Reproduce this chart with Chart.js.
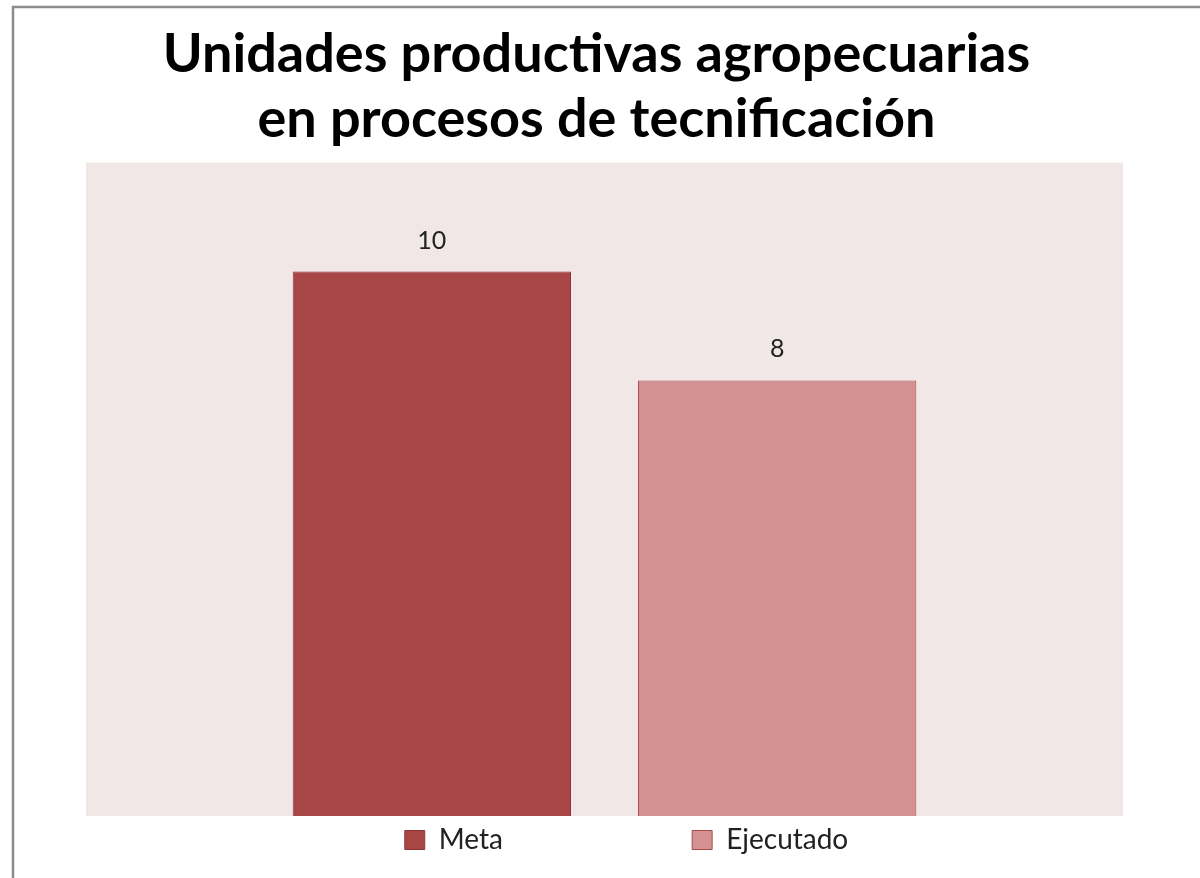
<!DOCTYPE html>
<html>
<head>
<meta charset="utf-8">
<script src="https://cdn.jsdelivr.net/npm/chart.js@4/dist/chart.umd.min.js"></script>
<style>
  html, body { margin: 0; padding: 0; background: #fff; }
  #wrap { width: 1200px; height: 878px; }
</style>
</head>
<body>
<div id="wrap"><canvas id="chart" width="1200" height="878"></canvas></div>
<script>
// datos del gráfico
const titleLines = ["Unidades productivas agropecuarias", "en procesos de tecnificación"];
const categories = [""];
const seriesNames = ["Meta", "Ejecutado"];
const metaValues = [10];
const ejecutadoValues = [8];
const yMin = 0;
const yMax = 12;

const FONT = "Lato, 'Open Sans', sans-serif";
const LEGEND_SIZE = 28;
const plotBg = "#F2E7E7";

// fondo, marco y área de trazado
const framePlugin = {
  id: "frame",
  beforeDraw(chart) {
    const { ctx, chartArea: a } = chart;
    ctx.save();
    ctx.fillStyle = "#fff";
    ctx.fillRect(0, 0, chart.width, chart.height);
    ctx.fillStyle = plotBg;
    ctx.fillRect(a.left, a.top, a.right - a.left, a.bottom - a.top);
    ctx.strokeStyle = "#8c8c8c";
    ctx.lineWidth = 2.5;
    ctx.beginPath();
    ctx.moveTo(13, chart.height + 5);
    ctx.lineTo(13, 7);
    ctx.lineTo(chart.width + 5, 7);
    ctx.stroke();
    ctx.restore();
  },
};

// etiquetas de valor sobre las barras
const valueLabels = {
  id: "valueLabels",
  afterDatasetsDraw(chart) {
    const { ctx } = chart;
    ctx.save();
    ctx.font = "25px " + FONT;
    ctx.fillStyle = "#222";
    ctx.textAlign = "center";
    ctx.textBaseline = "alphabetic";
    chart.data.datasets.forEach((ds, i) => {
      chart.getDatasetMeta(i).data.forEach((bar, j) => {
        ctx.fillText(String(ds.data[j]), bar.x, bar.y - 23);
      });
    });
    ctx.restore();
  },
};

// ajustar título y leyenda horizontalmente, como en el original
const boxShift = {
  id: "boxShift",
  afterLayout(chart) {
    const lg = chart.legend;
    if (lg) {
      lg.left += 22;
      lg.right += 22;
    }
    const tb = chart.titleBlock;
    if (tb) {
      tb.left -= 8;
      tb.right -= 8;
    }
  },
};

// espacio entre los elementos de la leyenda
function padText(text, gapPx) {
  const c = document.createElement("canvas").getContext("2d");
  c.font = LEGEND_SIZE + "px " + FONT;
  const sp = c.measureText(" ").width;
  return text + " ".repeat(Math.round(gapPx / sp));
}

const ctx = document.getElementById("chart").getContext("2d");
const chart = new Chart(ctx, {
  type: "bar",
  data: {
    labels: categories,
    datasets: [
      {
        label: seriesNames[0],
        data: metaValues,
        backgroundColor: "#A84646",
        borderColor: "#8E3737",
        borderWidth: 1,
      },
      {
        label: seriesNames[1],
        data: ejecutadoValues,
        backgroundColor: "#D39191",
        borderColor: "#A94C4C",
        borderWidth: 1,
      },
    ],
  },
  options: {
    responsive: false,
    animation: false,
    devicePixelRatio: 1,
    layout: { padding: { left: 86, right: 77, top: 0, bottom: 14 } },
    datasets: {
      bar: { categoryPercentage: 0.666, barPercentage: 0.806 },
    },
    scales: {
      x: { display: false },
      y: { display: false, min: yMin, max: yMax },
    },
    plugins: {
      title: {
        display: true,
        text: titleLines,
        color: "#000",
        font: { family: FONT, size: 54, weight: "bold", lineHeight: 1.2 },
        padding: { top: 22, bottom: 11 },
      },
      legend: {
        position: "bottom",
        labels: {
          color: "#222",
          font: { family: FONT, size: LEGEND_SIZE },
          boxWidth: 20,
          boxHeight: 19,
          padding: 10,
          generateLabels(chart) {
            const items = Chart.defaults.plugins.legend.labels.generateLabels(chart);
            items[0].text = padText(items[0].text, 182);
            items.forEach((it) => (it.lineWidth = 1));
            return items;
          },
        },
      },
      tooltip: { enabled: false },
    },
  },
  plugins: [framePlugin, valueLabels, boxShift],
});
</script>
</body>
</html>
